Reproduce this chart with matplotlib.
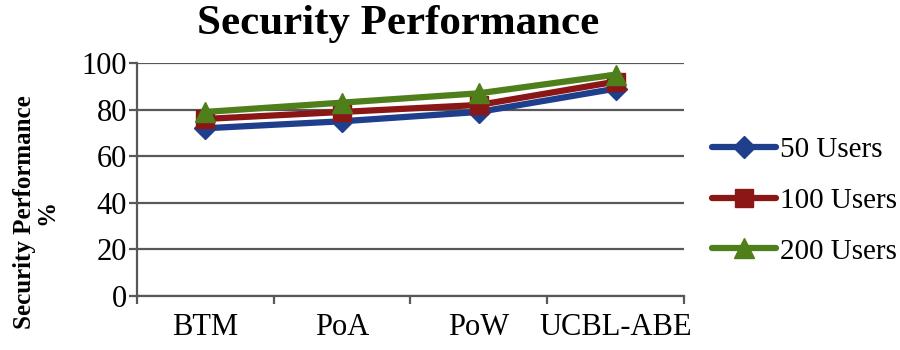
import matplotlib
matplotlib.use("Agg")
import matplotlib.pyplot as plt
import numpy as np

categories = ["BTM", "PoA", "PoW", "UCBL-ABE"]
users_50 = [72, 75, 79, 89]
users_100 = [76, 79, 82, 92]
users_200 = [79, 83, 87, 95]
series_labels = ["50 Users", "100 Users", "200 Users"]

plt.rcParams["font.family"] = ["Liberation Serif", "DejaVu Serif"]

fig = plt.figure(figsize=(9, 3.5), dpi=100)
ax = fig.add_axes([0.152, 0.154, 0.608, 0.666])

x = np.arange(len(categories))
styles = [
    (users_50, "#1f3f8c", "D", 11),
    (users_100, "#8b1616", "s", 13),
    (users_200, "#4f7f1a", "^", 15),
]
for (vals, col, mk, ms), lab in zip(styles, series_labels):
    ax.plot(x, vals, color=col, lw=4.5, marker=mk, markersize=ms,
            label=lab, solid_capstyle="round")

ax.set_xlim(-0.5, len(categories) - 0.5)
ax.set_ylim(0, 100)
ax.set_yticks(range(0, 101, 20))
ax.yaxis.grid(True, color="#585858", lw=1.6)
ax.set_axisbelow(True)

ax.set_xticks(x)
ax.set_xticklabels(categories, fontsize=22)
ax.set_xticks(np.arange(-0.5, len(categories)), minor=True)
ax.tick_params(axis="x", which="major", length=0, pad=12)
ax.tick_params(axis="x", which="minor", length=6, color="#585858", width=1.6)
ax.tick_params(axis="y", labelsize=22, length=6, color="#585858", width=1.6, pad=1)

for s in ["top", "right"]:
    ax.spines[s].set_visible(False)
for s in ["left", "bottom"]:
    ax.spines[s].set_color("#585858")
    ax.spines[s].set_linewidth(1.6)

ax.set_ylabel("Security Performance\n%", fontsize=18, fontweight="bold",
              linespacing=0.95)
ax.yaxis.set_label_coords(-0.143, 0.36)
fig.suptitle("Security Performance", fontsize=31, fontweight="bold",
             x=0.442, y=0.985)

ax.legend(loc="center left", bbox_to_anchor=(1.03, 0.41), frameon=False,
          borderaxespad=0, fontsize=21, handlelength=2.2, handletextpad=0.12,
          labelspacing=0.84)

fig.savefig("out.png", dpi=100)
